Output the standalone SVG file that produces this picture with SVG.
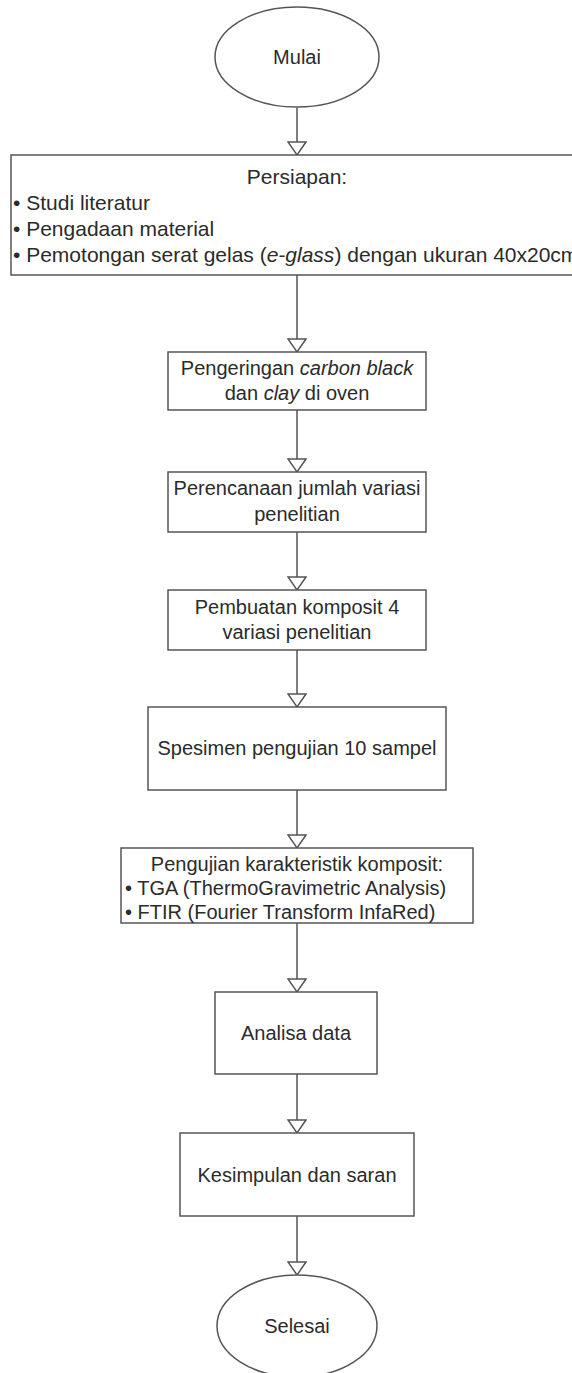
<svg xmlns="http://www.w3.org/2000/svg" width="572" height="1373" viewBox="0 0 572 1373">
<defs>
<style>
.shape{fill:#fff;stroke:#555;stroke-width:1.5}
.conn{stroke:#555;stroke-width:1.5;fill:none}
text{font-family:"Liberation Sans",Arial,sans-serif;font-size:20px;fill:#2b2b2b}
.big{font-size:21px}
.c{text-anchor:middle}
.i{font-style:italic}
</style>
<marker id="arr" markerUnits="userSpaceOnUse" viewBox="-1 -10 16 20" refX="13" refY="0" markerWidth="16" markerHeight="20" orient="auto">
<path d="M0,-9 L13,0 L0,9 Z" fill="#fff" stroke="#555" stroke-width="1.5"/>
</marker>
</defs>
<rect width="572" height="1373" fill="#fff"/>
<g id="connectors">
<line class="conn" x1="297" y1="108" x2="297" y2="155" marker-end="url(#arr)"/>
<line class="conn" x1="297" y1="275" x2="297" y2="352" marker-end="url(#arr)"/>
<line class="conn" x1="297" y1="410" x2="297" y2="472" marker-end="url(#arr)"/>
<line class="conn" x1="297" y1="532" x2="297" y2="590" marker-end="url(#arr)"/>
<line class="conn" x1="297" y1="650" x2="297" y2="707" marker-end="url(#arr)"/>
<line class="conn" x1="297" y1="790" x2="297" y2="848" marker-end="url(#arr)"/>
<line class="conn" x1="297" y1="923" x2="297" y2="992" marker-end="url(#arr)"/>
<line class="conn" x1="297" y1="1074" x2="297" y2="1133" marker-end="url(#arr)"/>
<line class="conn" x1="297" y1="1216" x2="297" y2="1275" marker-end="url(#arr)"/>
</g>
<g id="mulai">
<ellipse class="shape" cx="297" cy="57" rx="82" ry="50"/>
<text class="c" x="297" y="64">Mulai</text>
</g>
<g id="persiapan">
<rect class="shape" x="11" y="155" width="580" height="120"/>
<text class="c big" x="297" y="184">Persiapan:</text>
<text class="big" x="13" y="210">• Studi literatur</text>
<text class="big" x="13" y="236">• Pengadaan material</text>
<text class="big" x="13" y="262">• Pemotongan serat gelas (<tspan class="i">e-glass</tspan>) dengan ukuran 40x20cm</text>
</g>
<g id="pengeringan">
<rect class="shape" x="168" y="352" width="258" height="58"/>
<text class="c" x="297" y="375">Pengeringan <tspan class="i">carbon black</tspan></text>
<text class="c" x="297" y="400">dan <tspan class="i">clay</tspan> di oven</text>
</g>
<g id="perencanaan">
<rect class="shape" x="168" y="472" width="258" height="60"/>
<text class="c" x="297" y="495">Perencanaan jumlah variasi</text>
<text class="c" x="297" y="521">penelitian</text>
</g>
<g id="pembuatan">
<rect class="shape" x="168" y="590" width="258" height="60"/>
<text class="c" x="297" y="614">Pembuatan komposit 4</text>
<text class="c" x="297" y="639">variasi penelitian</text>
</g>
<g id="spesimen">
<rect class="shape" x="148" y="707" width="298" height="83"/>
<text class="c" x="297" y="755">Spesimen pengujian 10 sampel</text>
</g>
<g id="pengujian">
<rect class="shape" x="121" y="848" width="352" height="75"/>
<text class="c" x="297" y="871">Pengujian karakteristik komposit:</text>
<text x="125" y="895">• TGA (ThermoGravimetric Analysis)</text>
<text x="125" y="919">• FTIR (Fourier Transform InfaRed)</text>
</g>
<g id="analisa">
<rect class="shape" x="215" y="992" width="162" height="82"/>
<text class="c" x="296" y="1040">Analisa data</text>
</g>
<g id="kesimpulan">
<rect class="shape" x="180" y="1133" width="234" height="83"/>
<text class="c" x="297" y="1182">Kesimpulan dan saran</text>
</g>
<g id="selesai">
<ellipse class="shape" cx="297" cy="1326" rx="80" ry="51"/>
<text class="c" x="297" y="1333">Selesai</text>
</g>
</svg>
